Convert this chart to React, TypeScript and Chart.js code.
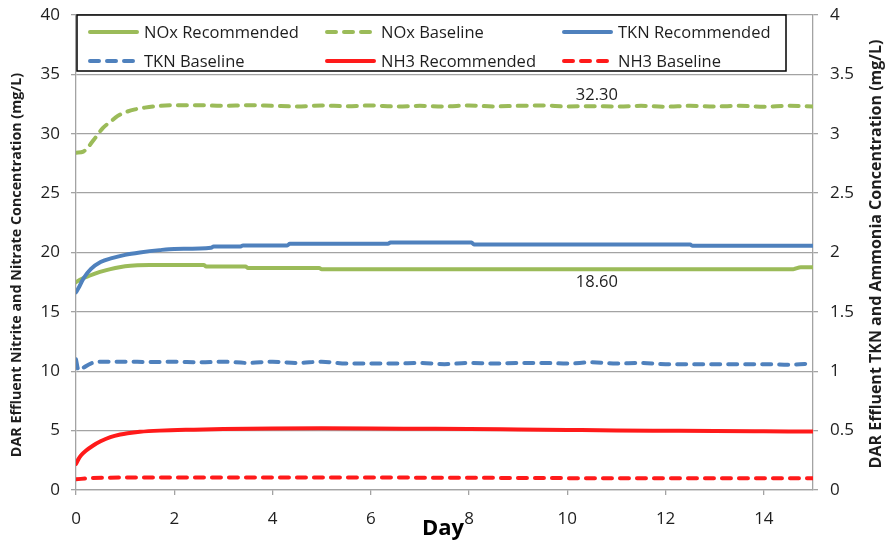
import React, { useEffect, useRef } from 'react';
import { Chart, registerables } from 'chart.js';

Chart.register(...registerables);

// ---------- data ----------
const seriesLabels = [
  'NOx Recommended',
  'NOx Baseline',
  'TKN Recommended',
  'TKN Baseline',
  'NH3 Recommended',
  'NH3 Baseline',
];

// NOx Recommended (left axis, mg/L)
const noxRecDays = [0, 0.1, 0.25, 0.4, 0.6, 0.8, 1.0, 1.25, 1.5, 2.6, 2.65, 3.45, 3.5, 4.95, 5.0, 14.6, 14.75, 15];
const noxRecValues = [17.5, 17.75, 18.0, 18.25, 18.5, 18.7, 18.85, 18.93, 18.95, 18.95, 18.82, 18.82, 18.7, 18.7, 18.6, 18.6, 18.75, 18.75];

// NOx Baseline (left axis, mg/L)
const noxBaseDays = [0, 0.15, 0.25, 0.4, 0.55, 0.7, 0.85, 1.0, 1.2, 1.4, 1.7, 2.0, 2.5, 3.0, 3.5, 4.0, 4.5, 5.0, 5.5, 6.0, 6.5, 7.0, 7.5, 8.0, 8.5, 9.0, 9.5, 10.0, 10.5, 11.0, 11.5, 12.0, 12.5, 13.0, 13.5, 14.0, 14.5, 15];
const noxBaseValues = [28.4, 28.5, 28.9, 29.7, 30.5, 31.0, 31.5, 31.8, 32.05, 32.2, 32.35, 32.4, 32.4, 32.35, 32.4, 32.35, 32.3, 32.38, 32.32, 32.38, 32.3, 32.35, 32.3, 32.38, 32.3, 32.35, 32.38, 32.3, 32.32, 32.3, 32.35, 32.28, 32.35, 32.3, 32.35, 32.28, 32.35, 32.3];

// TKN Recommended (right axis, mg/L)
const tknRecDays = [0, 0.05, 0.15, 0.3, 0.5, 0.75, 1.0, 1.3, 1.7, 2.0, 2.75, 2.8, 3.35, 3.4, 4.3, 4.35, 6.35, 6.4, 8.05, 8.1, 12.5, 12.55, 15];
const tknRecValues = [1.665, 1.7, 1.78, 1.86, 1.92, 1.955, 1.98, 2.0, 2.02, 2.03, 2.04, 2.05, 2.05, 2.06, 2.06, 2.073, 2.073, 2.084, 2.084, 2.067, 2.067, 2.056, 2.056];

// TKN Baseline (right axis, mg/L)
const tknBaseDays = [0, 0.05, 0.15, 0.3, 0.5, 1.0, 1.5, 2.0, 2.5, 3.0, 3.5, 4.0, 4.5, 5.0, 5.5, 6.0, 6.5, 7.0, 7.5, 8.0, 8.5, 9.0, 9.5, 10.0, 10.5, 11.0, 11.5, 12.0, 12.5, 13.0, 13.5, 14.0, 14.5, 15];
const tknBaseValues = [1.1, 1.01, 1.03, 1.065, 1.08, 1.08, 1.078, 1.08, 1.075, 1.08, 1.07, 1.08, 1.07, 1.08, 1.065, 1.065, 1.065, 1.07, 1.06, 1.07, 1.065, 1.07, 1.07, 1.065, 1.075, 1.065, 1.07, 1.06, 1.06, 1.06, 1.06, 1.06, 1.055, 1.065];

// NH3 Recommended (right axis, mg/L)
const nh3RecDays = [0, 0.05, 0.1, 0.2, 0.35, 0.5, 0.7, 0.9, 1.05, 1.3, 1.7, 2.4, 3, 4, 5, 6, 7, 8, 9, 10, 11, 12, 13, 14, 15];
const nh3RecValues = [0.22, 0.26, 0.29, 0.33, 0.375, 0.41, 0.445, 0.467, 0.478, 0.49, 0.5, 0.508, 0.513, 0.518, 0.519, 0.518, 0.516, 0.514, 0.51, 0.506, 0.502, 0.499, 0.496, 0.494, 0.492];

// NH3 Baseline (right axis, mg/L)
const nh3BaseDays = [0, 0.3, 1, 2, 4, 6, 8, 10, 12, 15];
const nh3BaseValues = [0.09, 0.1, 0.105, 0.106, 0.106, 0.105, 0.103, 0.1, 0.1, 0.1];

// ticks
const xTickValues = [0, 2, 4, 6, 8, 10, 12, 14];
const leftTickValues = [0, 5, 10, 15, 20, 25, 30, 35, 40];
const rightTickValues = [0, 0.5, 1, 1.5, 2, 2.5, 3, 3.5, 4];

// titles
const xTitle = 'Day';
const leftTitle = 'DAR Effluent Nitrite and Nitrate Concentration (mg/L)';
const rightTitle = 'DAR Effluent TKN and Ammonia Concentration (mg/L)';

// data labels (left axis values)
const annotationTexts = ['32.30', '18.60'];
const annotationDays = [10.6, 10.6];
const annotationValues = [32.3, 18.6];
const annotationPlacement = ['above', 'below'];

// ---------- styles ----------
const FONT = '"Open Sans", "DejaVu Sans", sans-serif';
const GRID = '#a3a3a3';
const TXT = '#1e1e1e';
const GREEN = '#9BBB59';
const BLUE = '#4F81BD';
const RED = '#FF1A1A';
const DASH = [9, 8];

const pts = (d: number[], v: number[]) => d.map((x, i) => ({ x, y: v[i] }));

const noPad = (s: any) => {
  s.paddingTop = 0;
  s.paddingBottom = 0;
  s.paddingLeft = 0;
  s.paddingRight = 0;
};

const overlayPlugin = {
  id: 'overlay',
  afterDraw(chart: any) {
    const ctx = chart.ctx as CanvasRenderingContext2D;
    const xs = chart.scales.x;
    const yl = chart.scales.y;
    ctx.save();

    // data labels
    ctx.font = `16.5px ${FONT}`;
    ctx.fillStyle = TXT;
    ctx.textAlign = 'center';
    ctx.textBaseline = 'middle';
    annotationTexts.forEach((t, i) => {
      const px = xs.getPixelForValue(annotationDays[i]);
      const py = yl.getPixelForValue(annotationValues[i]) + (annotationPlacement[i] === 'above' ? -11 : 13);
      ctx.fillText(t, px, py);
    });

    // legend
    const bx = 77, by = 15, bw = 709, bh = 56;
    ctx.fillStyle = '#ffffff';
    ctx.fillRect(bx, by, bw, bh);
    ctx.strokeStyle = '#000000';
    ctx.lineWidth = 1.5;
    ctx.strokeRect(bx, by, bw, bh);
    chart.data.datasets.forEach((d: any, i: number) => {
      const col = i % 3;
      const row = Math.floor(i / 3);
      const x0 = 88 + col * 237;
      const y0 = 32 + row * 29;
      ctx.beginPath();
      ctx.setLineDash(d.borderDash || []);
      ctx.lineCap = 'round';
      ctx.strokeStyle = d.borderColor;
      ctx.lineWidth = 4;
      ctx.moveTo(x0 + 2, y0);
      ctx.lineTo(x0 + 49, y0);
      ctx.stroke();
      ctx.setLineDash([]);
      ctx.fillStyle = TXT;
      ctx.textAlign = 'left';
      ctx.textBaseline = 'middle';
      ctx.font = `16.5px ${FONT}`;
      ctx.fillText(d.label, x0 + 56, y0 + 1);
    });

    // axis titles
    ctx.fillStyle = TXT;
    ctx.textAlign = 'center';
    ctx.textBaseline = 'middle';
    ctx.font = `bold 14.3px ${FONT}`;
    ctx.save();
    ctx.translate(17, 265);
    ctx.rotate(-Math.PI / 2);
    ctx.fillText(leftTitle, 0, 0);
    ctx.restore();
    ctx.font = `bold 16px ${FONT}`;
    ctx.save();
    ctx.translate(876, 254);
    ctx.rotate(-Math.PI / 2);
    ctx.fillText(rightTitle, 0, 0);
    ctx.restore();

    ctx.font = `bold 22px ${FONT}`;
    ctx.textBaseline = 'alphabetic';
    ctx.fillStyle = '#000';
    ctx.fillText(xTitle, 443, 535);

    ctx.restore();
  },
};

export default function App() {
  const ref = useRef<HTMLCanvasElement | null>(null);

  useEffect(() => {
    if (!ref.current) return;
    const mk = (i: number, data: any[], color: string, dashed: boolean, axis: string) => ({
      label: seriesLabels[i],
      data,
      borderColor: color,
      backgroundColor: color,
      borderWidth: 4,
      borderDash: dashed ? DASH : [],
      borderCapStyle: 'round' as const,
      borderJoinStyle: 'round' as const,
      pointRadius: 0,
      fill: false,
      cubicInterpolationMode: 'monotone' as const,
      yAxisID: axis,
      order: 10 - i,
    });

    const chart = new Chart(ref.current, {
      type: 'line',
      data: {
        datasets: [
          mk(0, pts(noxRecDays, noxRecValues), GREEN, false, 'y'),
          mk(1, pts(noxBaseDays, noxBaseValues), GREEN, true, 'y'),
          mk(2, pts(tknRecDays, tknRecValues), BLUE, false, 'y2'),
          mk(3, pts(tknBaseDays, tknBaseValues), BLUE, true, 'y2'),
          mk(4, pts(nh3RecDays, nh3RecValues), RED, false, 'y2'),
          mk(5, pts(nh3BaseDays, nh3BaseValues), RED, true, 'y2'),
        ],
      },
      options: {
        animation: false,
        responsive: false,
        maintainAspectRatio: false,
        layout: { padding: { top: 15, left: 0, right: 0, bottom: 0 } },
        plugins: { legend: { display: false }, tooltip: { enabled: false } },
        scales: {
          x: {
            type: 'linear',
            min: 0,
            max: 15,
            afterBuildTicks: (s: any) => { s.ticks = xTickValues.map((value) => ({ value })); },
            afterFit: (s: any) => { s.height = 51; noPad(s); },
            grid: { display: true, drawOnChartArea: false, drawTicks: true, tickLength: 5, color: GRID, lineWidth: 1.3 },
            border: { display: true, color: GRID, width: 1.3 },
            ticks: { font: { family: FONT, size: 17 }, color: TXT, padding: 14, maxRotation: 0, autoSkip: false },
          },
          y: {
            type: 'linear',
            position: 'left',
            min: 0,
            max: 40,
            afterBuildTicks: (s: any) => { s.ticks = leftTickValues.map((value) => ({ value })); },
            afterFit: (s: any) => { s.width = 76; noPad(s); },
            grid: { color: GRID, lineWidth: 1.3, drawTicks: true, tickLength: 5 },
            border: { display: true, color: GRID, width: 1.3 },
            ticks: { font: { family: FONT, size: 17 }, color: TXT, padding: 11, callback: (v: any) => String(v) },
          },
          y2: {
            type: 'linear',
            position: 'right',
            min: 0,
            max: 4,
            afterBuildTicks: (s: any) => { s.ticks = rightTickValues.map((value) => ({ value })); },
            afterFit: (s: any) => { s.width = 81; noPad(s); },
            grid: { drawOnChartArea: false, drawTicks: true, tickLength: 5, color: GRID, lineWidth: 1.3 },
            border: { display: true, color: GRID, width: 1.3 },
            ticks: { font: { family: FONT, size: 17 }, color: TXT, padding: 12, callback: (v: any) => String(v) },
          },
        },
      },
      plugins: [overlayPlugin],
    });
    return () => chart.destroy();
  }, []);

  return (
    <div style={{ position: 'fixed', left: 0, top: 0, width: 894, height: 541, background: '#ffffff' }}>
      <canvas ref={ref} width={894} height={541} style={{ display: 'block', width: 894, height: 541 }} />
    </div>
  );
}
